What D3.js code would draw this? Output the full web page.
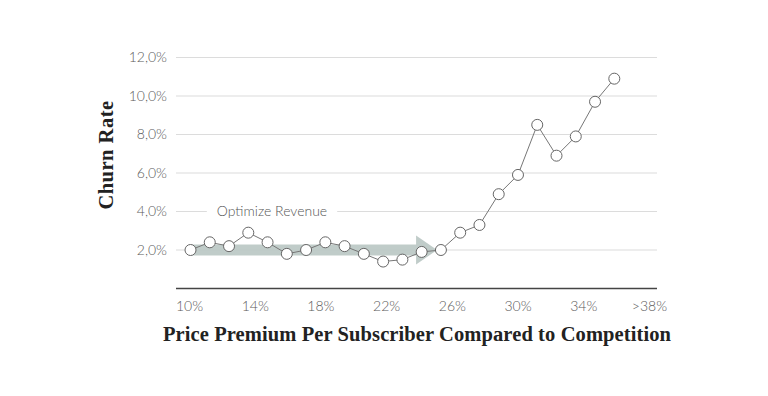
<!DOCTYPE html>
<html>
<head>
<meta charset="utf-8">
<script src="https://cdn.jsdelivr.net/npm/d3@7"></script>
<style>
  body { margin: 0; background: #fff; }
</style>
</head>
<body>
<div id="chart"></div>
<script>
// Chart data
var xLabels = ['10%', '14%', '18%', '22%', '26%', '30%', '34%', '>38%'];
var churn = [2.0, 2.4, 2.2, 2.9, 2.4, 1.8, 2.0, 2.4, 2.2, 1.8, 1.4, 1.5, 1.9,
             2.0, 2.9, 3.3, 4.9, 5.9, 8.5, 6.9, 7.9, 9.7, 10.9];
var yTicks = [2, 4, 6, 8, 10, 12];
var annotation = 'Optimize Revenue';
var arrowFrom = 0, arrowTo = 12.8, arrowLevel = 2.0, annotationLevel = 4;

var svg = d3.select('#chart')
  .append('svg')
  .attr('width', 768)
  .attr('height', 396);

// Scales
var x = d3.scaleLinear().domain([0, churn.length - 1]).range([190.5, 614.3]);
var xLab = d3.scalePoint().domain(xLabels).range([189, 649]);
var y = d3.scaleLinear().domain([0, 12]).range([288.5, 57.5]);

var left = 176, right = 657;
var tickFont = { family: 'Lato', weight: 300, size: '14px', color: '#5c5c5c' };

// Gridlines
svg.append('g')
  .selectAll('line')
  .data(yTicks)
  .enter()
  .append('line')
  .attr('x1', left)
  .attr('x2', right)
  .attr('y1', function(d) { return y(d); })
  .attr('y2', function(d) { return y(d); })
  .attr('stroke', '#dcdcdc')
  .attr('stroke-width', 1.2);

// Y axis labels
svg.append('g')
  .selectAll('text')
  .data(yTicks)
  .enter()
  .append('text')
  .attr('x', 167)
  .attr('y', function(d) { return y(d); })
  .attr('dy', '0.35em')
  .attr('text-anchor', 'end')
  .style('font-family', tickFont.family)
  .style('font-weight', tickFont.weight)
  .style('font-size', tickFont.size)
  .style('fill', tickFont.color)
  .text(function(d) { return d.toFixed(1).replace('.', ',') + '%'; });

// Baseline axis
svg.append('line')
  .attr('x1', left)
  .attr('x2', right)
  .attr('y1', y(0))
  .attr('y2', y(0))
  .attr('stroke', '#444')
  .attr('stroke-width', 1.5);

// X axis labels
var xAxis = svg.append('g')
  .attr('transform', 'translate(0,' + (y(0) + 7) + ')')
  .call(d3.axisBottom(xLab).tickSize(0).tickPadding(6));
xAxis.select('.domain').remove();
xAxis.selectAll('text')
  .style('font-family', tickFont.family)
  .style('font-weight', tickFont.weight)
  .style('font-size', tickFont.size)
  .style('fill', tickFont.color);

// Annotation label on the 4% gridline
var ann = svg.append('text')
  .attr('x', 272)
  .attr('y', y(annotationLevel))
  .attr('dy', '0.35em')
  .attr('text-anchor', 'middle')
  .style('font-family', tickFont.family)
  .style('font-weight', tickFont.weight)
  .style('font-size', tickFont.size)
  .style('fill', '#555')
  .text(annotation);
var bb = ann.node().getBBox();
svg.insert('rect', function() { return ann.node(); })
  .attr('x', bb.x - 10)
  .attr('y', bb.y)
  .attr('width', bb.width + 20)
  .attr('height', bb.height)
  .attr('fill', '#fff');

// Arrow
var shaftH = 11, headH = 29, headL = 21;
var ax0 = x(arrowFrom), ax1 = x(arrowTo), ay = y(arrowLevel);
svg.append('path')
  .attr('d', [
    'M', ax0, ay - shaftH / 2,
    'L', ax1 - headL, ay - shaftH / 2,
    'L', ax1 - headL, ay - headH / 2,
    'L', ax1, ay,
    'L', ax1 - headL, ay + headH / 2,
    'L', ax1 - headL, ay + shaftH / 2,
    'L', ax0, ay + shaftH / 2, 'Z'
  ].join(' '))
  .attr('fill', '#b9c6c3')
  .attr('opacity', 0.9);

// Line
var line = d3.line()
  .x(function(d, i) { return x(i); })
  .y(function(d) { return y(d); });

svg.append('path')
  .datum(churn)
  .attr('d', line)
  .attr('fill', 'none')
  .attr('stroke', '#777')
  .attr('stroke-width', 1);

// Points
svg.selectAll('circle')
  .data(churn)
  .enter()
  .append('circle')
  .attr('cx', function(d, i) { return x(i); })
  .attr('cy', function(d) { return y(d); })
  .attr('r', 5.5)
  .attr('fill', '#fff')
  .attr('stroke', '#666')
  .attr('stroke-width', 1);

// Axis titles
svg.append('text')
  .attr('transform', 'translate(113,155) rotate(-90)')
  .attr('text-anchor', 'middle')
  .style('font-family', 'Liberation Serif')
  .style('font-weight', 'bold')
  .style('font-size', '20.5px')
  .style('letter-spacing', '0.5px')
  .style('fill', '#222')
  .text('Churn Rate');

svg.append('text')
  .attr('x', 417)
  .attr('y', 341)
  .attr('text-anchor', 'middle')
  .style('font-family', 'Liberation Serif')
  .style('font-weight', 'bold')
  .style('font-size', '20.5px')
  .style('letter-spacing', '0.1px')
  .style('fill', '#222')
  .text('Price Premium Per Subscriber Compared to Competition');
</script>
</body>
</html>
